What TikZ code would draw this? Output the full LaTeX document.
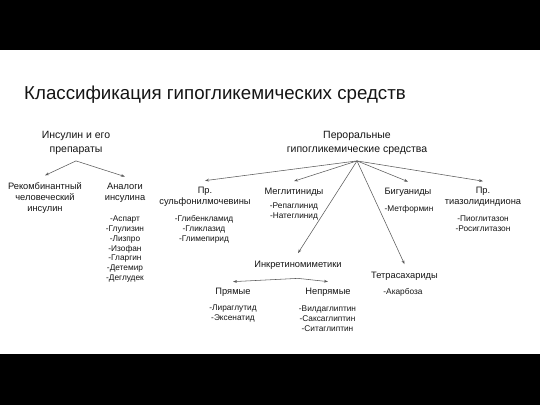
\documentclass[tikz,border=0pt]{standalone}
\usepackage{fontspec}
\setmainfont{Liberation Sans}
\usetikzlibrary{arrows.meta}
\definecolor{linegray}{RGB}{90,90,90}
\definecolor{textgray}{RGB}{20,20,20}
\begin{document}
\begin{tikzpicture}[x=1pt,y=-1pt,
  conn/.style={draw=linegray, line width=0.55pt, -{Stealth[length=4pt,width=2.8pt]}},
  headbox/.style={inner sep=0pt, align=center, text=textgray, font=\fontsize{10.5}{14}\selectfont},
  catbox/.style={inner sep=0pt, align=center, text=textgray, font=\fontsize{9.3}{11}\selectfont},
  drugbox/.style={inner sep=0pt, align=center, text=textgray, font=\fontsize{8.3}{9.9}\selectfont}]
\useasboundingbox (0,0) rectangle (540,405);
\fill[black] (0,0) rectangle (540,49.5);
\fill[black] (0,353.5) rectangle (540,405);
\node[anchor=base west, inner sep=0pt, text=textgray, font=\fontsize{18.7}{22}\selectfont] (title) at (24,99.5) {Классификация гипогликемических средств};

% insulin branch
\node[headbox] (ins) at (76,143) {Инсулин и его\\препараты};
\node[catbox] (rec) at (45,198) {Рекомбинантный\\человеческий\\инсулин};
\node[catbox] (analog) at (125,192.5) {Аналоги\\инсулина};
\node[drugbox] (analogs) at (125,249) {-Аспарт\\-Глулизин\\-Лизпро\\-Изофан\\-Гларгин\\-Детемир\\-Деглудек};
\coordinate (insfork) at ([yshift=-6pt]ins.south);
\draw[conn] (insfork) -- ([yshift=7pt]rec.north);
\draw[conn] (insfork) -- ([yshift=6pt]analog.north);

% oral branch
\node[headbox] (oral) at (357,143) {Пероральные\\гипогликемические средства};
\node[catbox] (sulf) at (205,197) {Пр.\\сульфонилмочевины};
\node[drugbox] (sulfs) at (204,229) {-Глибенкламид\\-Гликлазид\\-Глимепирид};
\node[catbox] (megl) at (294,192) {Меглитиниды};
\node[drugbox] (megls) at (294,211.7) {-Репаглинид\\-Натеглинид};
\node[catbox] (big) at (408,192.5) {Бигуаниды};
\node[drugbox] (bigs) at (409,209) {-Метформин};
\node[catbox] (tzd) at (483,197) {Пр.\\тиазолидиндиона};
\node[drugbox] (tzds) at (483,224) {-Пиоглитазон\\-Росиглитазон};
\node[catbox] (incr) at (298,265) {Инкретиномиметики};
\node[catbox] (tetra) at (404.5,276) {Тетрасахариды};
\node[drugbox] (tetras) at (403,292.7) {-Акарбоза};
\coordinate (oralfork) at ([yshift=-6pt]oral.south);
\draw[conn] (oralfork) -- ([yshift=6.5pt]sulf.north);
\draw[conn] (oralfork) -- ([yshift=6.5pt]megl.north);
\draw[conn] (oralfork) -- ([yshift=6.5pt]big.north);
\draw[conn] (oralfork) -- ([yshift=6pt]tzd.north);
\draw[conn] (oralfork) -- ([yshift=7.5pt]incr.north);
\draw[conn] (oralfork) -- ([yshift=7.5pt]tetra.north);

% incretin branch
\node[catbox] (direct) at (233,292.3) {Прямые};
\node[catbox] (indirect) at (328,292.3) {Непрямые};
\node[drugbox] (directs) at (233,313.5) {-Лираглутид\\-Эксенатид};
\node[drugbox] (indirects) at (327.5,318.3) {-Вилдаглиптин\\-Саксаглиптин\\-Ситаглиптин};
\coordinate (incrfork) at ([yshift=-9pt]incr.south);
\draw[conn] (incrfork) -- ([yshift=6.3pt]direct.north);
\draw[conn] (incrfork) -- ([yshift=6.3pt]indirect.north);
\end{tikzpicture}
\end{document}
